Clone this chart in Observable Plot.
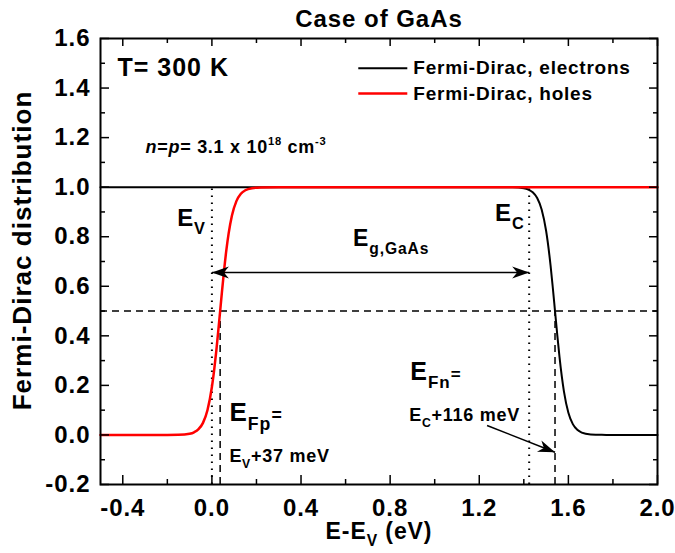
<!DOCTYPE html>
<html>
<head>
<meta charset="utf-8">
<script src="https://cdn.jsdelivr.net/npm/d3@7"></script>
<script src="https://cdn.jsdelivr.net/npm/@observablehq/plot@0.6"></script>
<style>
  body { margin: 0; background: #fff; }
  #chart svg text { font-family: "Liberation Sans", Arial, sans-serif; font-weight: bold; letter-spacing: 0.04em; }
</style>
</head>
<body>
<div id="chart"></div>
<script>
// ---- data ----
const energyElectrons = [-0.5, 1.3, 1.35, 1.4, 1.42, 1.44, 1.46, 1.48, 1.5, 1.52, 1.53, 1.54, 1.55, 1.56, 1.58, 1.6, 1.62, 1.64, 1.66, 1.7, 1.75, 1.8, 2.0];
const fermiElectrons  = [1, 0.9999, 0.9994, 0.9955, 0.9904, 0.9794, 0.9564, 0.9102, 0.824, 0.684, 0.595, 0.5, 0.405, 0.316, 0.176, 0.0897, 0.0436, 0.0206, 0.0096, 0.0021, 0.0003, 0, 0];
const energyHoles = [-0.5, -0.2, -0.15, -0.1, -0.08, -0.06, -0.04, -0.02, 0, 0.01, 0.02, 0.03, 0.037, 0.045, 0.055, 0.065, 0.075, 0.09, 0.11, 0.13, 0.15, 0.18, 0.22, 0.3, 2.0];
const fermiHoles  = [0, 0.0001, 0.0007, 0.005, 0.0108, 0.0231, 0.0487, 0.0997, 0.1933, 0.2608, 0.3416, 0.4329, 0.5, 0.5766, 0.667, 0.7467, 0.8126, 0.8856, 0.9437, 0.9732, 0.9874, 0.996, 0.9991, 1, 1];

const seriesNames  = ["Fermi-Dirac, electrons", "Fermi-Dirac, holes"];
const seriesColors = ["#000000", "#ff0000"];

const bandEdges  = [0, 1.424];   // E_V, E_C (eV)
const quasiFermi = [0.037, 1.54]; // E_Fp, E_Fn (eV)
const halfLevel = 0.5;

const xTicks      = [-0.4, 0, 0.4, 0.8, 1.2, 1.6, 2.0];
const xTickLabels = ["-0.4", "0.0", "0.4", "0.8", "1.2", "1.6", "2.0"];
const xMinorTicks = [-0.2, 0.2, 0.6, 1.0, 1.4, 1.8];
const yTicks      = [-0.2, 0, 0.2, 0.4, 0.6, 0.8, 1.0, 1.2, 1.4, 1.6];
const yTickLabels = ["-0.2", "0.0", "0.2", "0.4", "0.6", "0.8", "1.0", "1.2", "1.4", "1.6"];
const yMinorTicks = [-0.1, 0.1, 0.3, 0.5, 0.7, 0.9, 1.1, 1.3, 1.5];

const titleText  = "Case of GaAs";
const xLabelText = "E-E_{V} (eV)";
const yLabelText = "Fermi-Dirac distribution";

// ---- tables built from the arrays ----
const electrons = energyElectrons.map((E, i) => ({E, f: fermiElectrons[i]}));
const holes     = energyHoles.map((E, i) => ({E, f: fermiHoles[i]}));
const xLabelOf = new Map(xTicks.map((t, i) => [t, xTickLabels[i]]));
const yLabelOf = new Map(yTicks.map((t, i) => [t, yTickLabels[i]]));

// annotation anchors (data units)
const gapArrowLevel = 0.656;
const legendX = [0.657, 0.877, 0.904];
const legendY = [1.48, 1.378];

const txt = (s, o) => Plot.text([s], {text: d => d, textAnchor: "start", lineAnchor: "middle", ...o});

const chart = Plot.plot({
  width: 675,
  height: 553,
  marginLeft: 100,
  marginRight: 18,
  marginTop: 38,
  marginBottom: 69,
  x: {domain: [-0.5, 2.0]},
  y: {domain: [-0.2, 1.6]},
  style: {background: "#fff", color: "#000", overflow: "visible"},
  marks: [
    // reference lines
    Plot.ruleY([halfLevel], {stroke: "#000", strokeWidth: 1.5, strokeDasharray: "7,5"}),
    Plot.ruleX(bandEdges, {y1: -0.2, y2: 1.0, stroke: "#000", strokeWidth: 2, strokeDasharray: "1.6,5.4"}),
    Plot.ruleX(quasiFermi, {y1: -0.2, y2: halfLevel, stroke: "#000", strokeWidth: 1.5, strokeDasharray: "7,5"}),
    // curves
    Plot.line(electrons, {x: "E", y: "f", stroke: seriesColors[0], strokeWidth: 2, curve: "monotone-x"}),
    Plot.line(holes, {x: "E", y: "f", stroke: seriesColors[1], strokeWidth: 2.5, curve: "monotone-x"}),
    // band-gap arrow
    Plot.link([0], {x1: bandEdges[0], x2: bandEdges[1], y1: gapArrowLevel, y2: gapArrowLevel, stroke: "#000", strokeWidth: 1.5, markerStart: "arrow", markerEnd: "arrow"}),
    // E_Fn pointer arrow
    Plot.link([0], {x1: 1.235, y1: 0.038, x2: quasiFermi[1], y2: -0.07, stroke: "#000", strokeWidth: 1.5, markerEnd: "arrow"}),
    // legend
    Plot.link([seriesNames[0]], {x1: legendX[0], x2: legendX[1], y1: legendY[0], y2: legendY[0], stroke: seriesColors[0], strokeWidth: 2}),
    Plot.link([seriesNames[1]], {x1: legendX[0], x2: legendX[1], y1: legendY[1], y2: legendY[1], stroke: seriesColors[1], strokeWidth: 2.5}),
    txt(seriesNames[0], {x: legendX[2], y: legendY[0], fontSize: 19}),
    txt(seriesNames[1], {x: legendX[2], y: legendY[1], fontSize: 19}),
    // annotations
    txt("T= 300 K", {x: -0.424, y: 1.48, fontSize: 25}),
    txt("~{n}=~{p}= 3.1 x 10^{18} cm^{-3}", {x: -0.298, y: 1.163, fontSize: 18}),
    txt("E_{V}", {x: -0.156, y: 0.873, fontSize: 24}),
    txt("E_{C}", {x: 1.271, y: 0.893, fontSize: 24}),
    txt("E_{g,GaAs}", {x: 0.633, y: 0.791, fontSize: 23}),
    txt("E_{Fp}#{=}", {x: 0.0785, y: 0.089, fontSize: 26}),
    txt("E_{V}+37 meV", {x: 0.0785, y: -0.085, fontSize: 18}),
    txt("E_{Fn}#{=}", {x: 0.89, y: 0.256, fontSize: 25}),
    txt("E_{C}+116 meV", {x: 0.886, y: 0.079, fontSize: 18}),
    // title and axis labels
    Plot.text([titleText], {text: d => d, frameAnchor: "top", textAnchor: "middle", dy: -19, lineAnchor: "middle", fontSize: 24}),
    Plot.text([xLabelText], {text: d => d, frameAnchor: "bottom", textAnchor: "middle", dy: 47, lineAnchor: "middle", fontSize: 23}),
    Plot.text([yLabelText], {text: d => d, frameAnchor: "left", textAnchor: "middle", rotate: -90, dx: -78, dy: -11, lineAnchor: "middle", fontSize: 26}),
    // tick labels
    Plot.axisX(xTicks, {anchor: "bottom", tickSize: 0, tickPadding: 14, tickFormat: d => xLabelOf.get(d), fontSize: 24, label: null}),
    Plot.axisY(yTicks, {anchor: "left", tickSize: 0, tickPadding: 10, tickFormat: d => yLabelOf.get(d), fontSize: 24, label: null}),
    // inward ticks on all four sides
    Plot.axisX(xTicks, {anchor: "bottom", tickSize: -9, fill: "none", strokeWidth: 1.5, label: null}),
    Plot.axisX(xMinorTicks, {anchor: "bottom", tickSize: -5, fill: "none", strokeWidth: 1.5, label: null}),
    Plot.axisX(xTicks, {anchor: "top", tickSize: -7, fill: "none", strokeWidth: 1.5, label: null}),
    Plot.axisX(xMinorTicks, {anchor: "top", tickSize: -4, fill: "none", strokeWidth: 1.5, label: null}),
    Plot.axisY(yTicks, {anchor: "left", tickSize: -9, fill: "none", strokeWidth: 1.5, label: null}),
    Plot.axisY(yMinorTicks, {anchor: "left", tickSize: -5, fill: "none", strokeWidth: 1.5, label: null}),
    Plot.axisY(yTicks, {anchor: "right", tickSize: -9, fill: "none", strokeWidth: 1.5, label: null}),
    Plot.axisY(yMinorTicks, {anchor: "right", tickSize: -5, fill: "none", strokeWidth: 1.5, label: null}),
    Plot.frame({stroke: "#000", strokeWidth: 2})
  ]
});

document.getElementById("chart").appendChild(chart);

// filled barbed arrowheads
chart.querySelectorAll("marker").forEach(m => {
  const color = m.getAttribute("stroke") || "#000";
  m.setAttribute("viewBox", "-18 -7 19 14");
  m.setAttribute("markerUnits", "userSpaceOnUse");
  m.setAttribute("markerWidth", 19);
  m.setAttribute("markerHeight", 14);
  m.setAttribute("orient", "auto-start-reverse");
  m.setAttribute("stroke", "none");
  m.setAttribute("fill", color);
  m.innerHTML = "";
  const p = document.createElementNS("http://www.w3.org/2000/svg", "path");
  p.setAttribute("d", "M0,0 L-17,-6 L-12,0 L-17,6 Z");
  p.setAttribute("fill", color);
  m.appendChild(p);
});

// rich text: _{sub}, ^{sup}, ~{italic}, #{small}
chart.querySelectorAll("text").forEach(t => {
  const s = t.textContent;
  if (!/[_^~#]\{/.test(s)) return;
  const fs = parseFloat(getComputedStyle(t).fontSize) || 16;
  t.textContent = "";
  const re = /([_^~#])\{([^}]*)\}|([^_^~#]+)/g;
  let m, shift = 0;
  while ((m = re.exec(s))) {
    const ts = document.createElementNS("http://www.w3.org/2000/svg", "tspan");
    let target = 0, size = null, italic = false, text;
    if (m[1] === "_") { target = fs * 0.33; size = fs * 0.68; text = m[2]; }
    else if (m[1] === "^") { target = -fs * 0.42; size = fs * 0.62; text = m[2]; }
    else if (m[1] === "~") { italic = true; text = m[2]; }
    else if (m[1] === "#") { size = fs * 0.68; text = m[2]; }
    else text = m[3];
    ts.textContent = text;
    if (target !== shift) ts.setAttribute("dy", (target - shift).toFixed(2));
    shift = target;
    if (size) ts.setAttribute("font-size", size.toFixed(2));
    if (italic) ts.setAttribute("font-style", "italic");
    t.appendChild(ts);
  }
});
</script>
</body>
</html>
